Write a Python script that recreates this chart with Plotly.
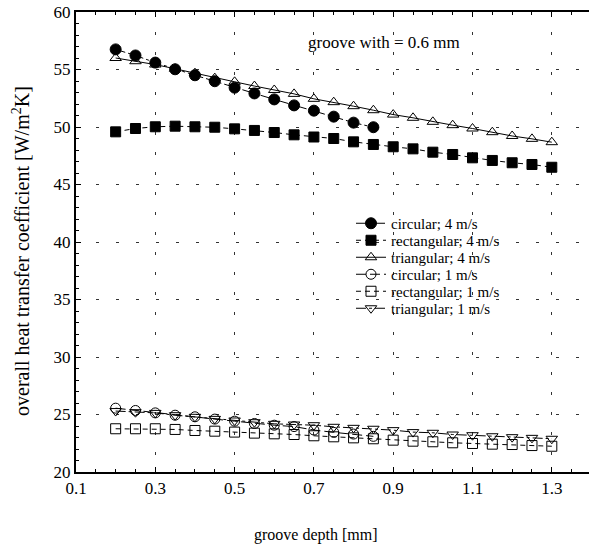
import plotly.graph_objects as go

depth = [0.2, 0.25, 0.3, 0.35, 0.4, 0.45, 0.5, 0.55, 0.6, 0.65, 0.7, 0.75,
         0.8, 0.85, 0.9, 0.95, 1.0, 1.05, 1.1, 1.15, 1.2, 1.25, 1.3]
depth_circ = depth[:14]

circ_4 = [56.75, 56.22, 55.6, 55.02, 54.5, 53.98, 53.42, 52.92, 52.4, 51.88,
          51.42, 50.9, 50.38, 49.98]
rect_4 = [49.58, 49.87, 50.02, 50.07, 50.02, 49.98, 49.84, 49.7, 49.52, 49.32,
          49.13, 49.0, 48.71, 48.48, 48.28, 48.1, 47.81, 47.61, 47.32, 47.09,
          46.89, 46.74, 46.5]
tri_4 = [56.0, 55.72, 55.43, 55.06, 54.68, 54.25, 53.93, 53.56, 53.22, 52.88,
         52.45, 52.16, 51.81, 51.46, 51.08, 50.8, 50.45, 50.16, 49.87, 49.55,
         49.22, 48.97, 48.68]
circ_1 = [25.55, 25.35, 25.14, 24.94, 24.8, 24.6, 24.42, 24.22, 24.07, 23.95,
          23.65, 23.45, 23.3, 23.1]
rect_1 = [23.76, 23.76, 23.76, 23.7, 23.61, 23.55, 23.47, 23.38, 23.32, 23.26,
          23.15, 23.06, 22.97, 22.89, 22.77, 22.68, 22.63, 22.54, 22.48, 22.42,
          22.39, 22.3, 22.24]
tri_1 = [25.3, 25.2, 25.14, 24.94, 24.8, 24.62, 24.48, 24.33, 24.19, 24.13,
         24.07, 23.93, 23.84, 23.76, 23.64, 23.47, 23.41, 23.26, 23.2, 23.11,
         23.03, 22.97, 22.89]

names = ["circular; 4 m/s", "rectangular; 4 m/s", "triangular; 4 m/s",
         "circular; 1 m/s", "rectangular; 1 m/s", "triangular; 1 m/s"]

x_ticks = [0.1, 0.3, 0.5, 0.7, 0.9, 1.1, 1.3]
y_ticks = [20, 25, 30, 35, 40, 45, 50, 55, 60]

FONT = "Liberation Serif"

W, H = 589, 551
ML, MR, MT, MB = 76, 0, 12, 79
PW, PH = W - ML - MR, H - MT - MB


def px_x(px):
    return (px - ML) / PW


def px_y(py):
    return (H - MB - py) / PH


series = [
    (depth_circ, circ_4, names[0], "circle", "10px,3px,3px,3px", 11),
    (depth, rect_4, names[1], "square", "5px,4px", 10),
    (depth, tri_4, names[2], "triangle-up-open", "solid", 10),
    (depth_circ, circ_1, names[3], "circle-open", "10px,4px", 10),
    (depth, rect_1, names[4], "square-open", "5px,4px", 10),
    (depth, tri_1, names[5], "triangle-down-open", "10px,3px,3px,3px", 10),
]

legend_rows = [223.5, 240.5, 257.5, 274.5, 291.5, 308.5]

fig = go.Figure()
layout_legends = {}
for i, (xs, ys, nm, sym, dash, sz) in enumerate(series):
    lg = "legend" if i == 0 else f"legend{i + 1}"
    fig.add_trace(go.Scatter(
        x=xs, y=ys, name=nm, mode="lines+markers", legend=lg,
        line=dict(color="black", width=1, dash=dash),
        marker=dict(symbol=sym, size=sz, color="black",
                    line=dict(color="black", width=1)),
    ))
    layout_legends[lg] = dict(
        x=px_x(351), y=px_y(legend_rows[i]), xanchor="left", yanchor="middle",
        bgcolor="rgba(0,0,0,0)", font=dict(family=FONT, size=15, color="black"),
        borderwidth=0, itemwidth=30,
    )

fig.update_layout(
    width=W, height=H,
    margin=dict(l=ML, r=MR, t=MT, b=MB, pad=0),
    paper_bgcolor="white", plot_bgcolor="white",
    font=dict(family=FONT, size=17, color="black"),
    showlegend=True,
    **layout_legends,
)

fig.add_annotation(text="groove with = 0.6 mm", xref="paper", yref="paper",
                   x=px_x(384), y=px_y(42.5), showarrow=False,
                   xanchor="center", yanchor="middle",
                   font=dict(family=FONT, size=17, color="black"))
fig.add_annotation(text="groove depth [mm]", xref="paper", yref="paper",
                   x=px_x(316), y=px_y(535), showarrow=False,
                   xanchor="center", yanchor="middle",
                   font=dict(family=FONT, size=16, color="black"))
fig.add_annotation(text="overall heat transfer coefficient [W/m<sup>2</sup>K]",
                   xref="paper", yref="paper", textangle=-90,
                   x=px_x(21), y=px_y(251), showarrow=False,
                   xanchor="center", yanchor="middle",
                   font=dict(family=FONT, size=20, color="black"))

fig.update_xaxes(
    range=[0.1, 0.1 + PW / 396.5], tickvals=x_ticks,
    ticktext=[f"{v:g}" for v in x_ticks],
    ticks="inside", ticklen=5, tickcolor="black", tickwidth=1,
    showline=True, linecolor="black", linewidth=2, mirror="ticks",
    showgrid=True, gridcolor="#333", gridwidth=1, griddash="3px,17px",
    minor=dict(dtick=0.05, tick0=0.1, ticks="inside", ticklen=3,
               tickcolor="black", showgrid=False),
    zeroline=False, tickfont=dict(family=FONT, size=17, color="black"),
)
fig.update_yaxes(
    range=[20, 60], tickvals=y_ticks,
    ticks="inside", ticklen=5, tickcolor="black", tickwidth=1,
    showline=True, linecolor="black", linewidth=2, mirror=False,
    showgrid=True, gridcolor="#333", gridwidth=1, griddash="3px,17px",
    minor=dict(dtick=1, tick0=20, ticks="inside", ticklen=3,
               tickcolor="black", showgrid=False),
    zeroline=False, tickfont=dict(family=FONT, size=17, color="black"),
)

fig.write_html("out.html",
               config={"displayModeBar": False},
               post_script="document.body.style.margin='0';"
                           "document.body.style.overflow='hidden';")
